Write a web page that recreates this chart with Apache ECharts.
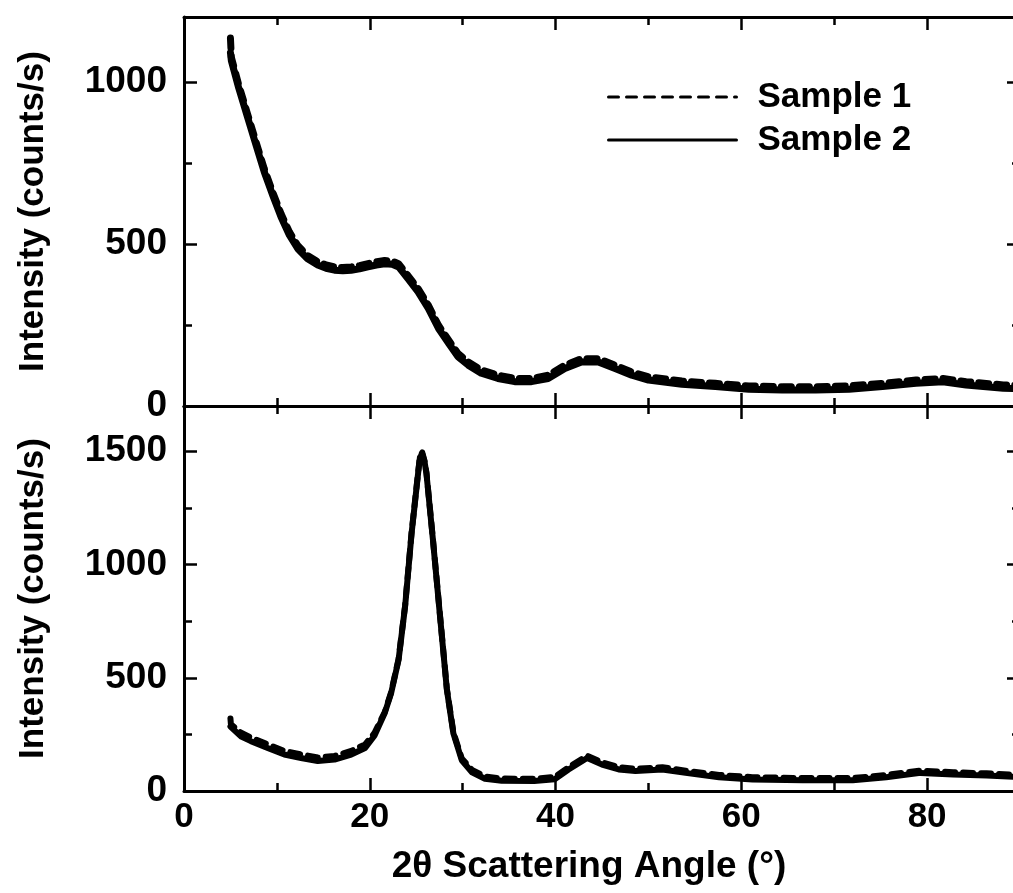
<!DOCTYPE html>
<html>
<head>
<meta charset="utf-8">
<title>XRD scans</title>
<script src="https://cdn.jsdelivr.net/npm/echarts@6/dist/echarts.min.js"></script>
<style>
  html, body { margin: 0; padding: 0; background: #fff; }
  #chart { width: 1013px; height: 893px; }
</style>
</head>
<body>
<div id="chart"></div>
<script>
// Upper panel: scattering angle (deg) and intensity (counts/s)
const angleTop = [5.0, 5.1, 5.9, 6.85, 7.75, 8.65, 9.55, 10.45, 11.35, 12.25, 13.3, 14.4, 15.3, 16.2, 17.1, 18.0, 18.9, 19.8, 20.7, 21.6, 22.4, 23.1, 24.1, 25.2, 26.3, 27.4, 28.5, 29.5, 30.6, 32.0, 33.8, 35.6, 37.4, 39.2, 41.0, 42.8, 44.6, 46.4, 48.2, 50.0, 53.6, 57.2, 60.8, 64.4, 68.0, 71.6, 75.2, 78.8, 81.7, 84.2, 88.2, 90.0];
const sample1Top = [1135, 1075, 990, 900, 815, 731, 660, 593, 537, 495, 464, 445, 435, 429, 427, 429, 433, 439, 445, 449, 447, 439, 403, 362, 311, 249, 203, 162, 136, 111, 95, 85, 85, 95, 126, 146, 146, 126, 105, 90, 77, 70, 62, 59, 59, 62, 70, 80, 85, 75, 65, 63];
const sample2Top = [1090, 1065, 980, 890, 805, 721, 650, 583, 527, 485, 454, 435, 425, 419, 417, 419, 423, 429, 435, 439, 437, 429, 393, 352, 301, 239, 193, 152, 126, 101, 85, 75, 75, 85, 116, 136, 136, 116, 95, 80, 67, 60, 52, 49, 49, 52, 60, 70, 75, 65, 55, 53];

// Lower panel
const angleBottom = [5.0, 5.05, 6.1, 7.2, 9.0, 10.8, 12.6, 14.4, 16.2, 18.0, 19.5, 20.5, 21.6, 22.3, 23.1, 23.8, 24.5, 24.85, 25.2, 25.4, 25.65, 25.9, 26.1, 26.8, 27.6, 28.3, 29.0, 29.9, 31.0, 32.4, 34.2, 37.7, 39.9, 41.4, 43.4, 45.0, 46.8, 48.6, 51.5, 54.0, 57.6, 61.2, 66.6, 72.0, 75.6, 79.3, 82.8, 86.4, 90.0];
const sample1Bottom = [320, 295, 258, 236, 206, 177, 162, 148, 155, 177, 206, 256, 347, 436, 583, 818, 1141, 1273, 1406, 1477, 1495, 1457, 1406, 1112, 759, 451, 260, 144, 93, 64, 55, 54, 62, 105, 156, 127, 105, 98, 105, 90, 71, 61, 57, 57, 71, 90, 83, 78, 71];
const sample2Bottom = [285, 279, 242, 220, 190, 161, 146, 132, 139, 161, 190, 244, 343, 432, 579, 814, 1137, 1269, 1402, 1473, 1489, 1453, 1402, 1108, 755, 447, 254, 136, 83, 54, 45, 44, 52, 95, 146, 117, 95, 88, 95, 80, 61, 51, 47, 47, 61, 80, 73, 68, 61];

// Axis ranges and tick spacing
const angleRange = [0, 90];
const angleStep = 20;
const topRange = [0, 1200];
const bottomRange = [0, 1700];
const intensityStep = 500;

const seriesNames = ['Sample 1', 'Sample 2'];

const FONT = '"Liberation Sans", Arial, Helvetica, sans-serif';
const INK = '#000';

function pairs(xs, ys) {
  return xs.map((x, i) => [x, ys[i]]);
}

function xAxisFor(gridIndex, position, withLabels) {
  return {
    type: 'value', gridIndex, position,
    min: angleRange[0], max: angleRange[1], interval: angleStep,
    axisLine: { show: true, onZero: false, lineStyle: { color: INK, width: 3 } },
    axisTick: { show: true, inside: true, length: 13, lineStyle: { color: INK, width: 2.5 } },
    minorTick: { show: true, splitNumber: 2, length: 8, lineStyle: { color: INK, width: 2.5 } },
    splitLine: { show: false },
    axisLabel: withLabels ? {
      show: true, margin: 9, showMaxLabel: false,
      formatter: v => String(v),
      fontFamily: FONT, fontWeight: 'bold', fontSize: 35, color: INK
    } : { show: false },
    name: withLabels ? '2θ Scattering Angle (°)' : '',
    nameLocation: 'middle', nameGap: 57,
    nameTextStyle: {
      fontFamily: FONT, fontWeight: 'bold', fontSize: 37, color: INK,
      padding: [0, 26, 0, 0]
    }
  };
}

function yAxisFor(gridIndex, position, range, withLabels) {
  return {
    type: 'value', gridIndex, position,
    min: range[0], max: range[1], interval: intensityStep,
    axisLine: { show: true, onZero: false, lineStyle: { color: INK, width: 3 } },
    axisTick: { show: true, inside: true, length: 13, lineStyle: { color: INK, width: 2.5 } },
    minorTick: { show: true, splitNumber: 2, length: 8, lineStyle: { color: INK, width: 2.5 } },
    splitLine: { show: false },
    axisLabel: withLabels ? {
      show: true, margin: 17, showMaxLabel: false,
      formatter: v => String(v),
      fontFamily: FONT, fontWeight: 'bold', fontSize: 37, color: INK
    } : { show: false },
    name: withLabels ? 'Intensity (counts/s)' : '',
    nameLocation: 'middle', nameGap: 133,
    nameTextStyle: { fontFamily: FONT, fontWeight: 'bold', fontSize: 35, color: INK }
  };
}

function lineSeries(name, xIdx, yIdx, data, dashed, width) {
  return {
    name, type: 'line', xAxisIndex: xIdx, yAxisIndex: yIdx,
    data, symbol: 'none', showSymbol: false, animation: false,
    lineStyle: {
      color: INK, width, join: 'round', cap: 'round',
      type: dashed ? [10, 8] : 'solid'
    },
    itemStyle: { color: INK },
    emphasis: { disabled: true }
  };
}

const chart = echarts.init(document.getElementById('chart'), null, { renderer: 'canvas' });

chart.setOption({
  backgroundColor: '#fff',
  animation: false,
  textStyle: { fontFamily: FONT },
  grid: [
    { left: 184, top: 17, width: 836, height: 389, outerBoundsMode: 'none', containLabel: false },
    { left: 184, top: 406, width: 836, height: 385, outerBoundsMode: 'none', containLabel: false }
  ],
  legend: {
    orient: 'vertical', left: 607, top: 79, padding: 0,
    itemWidth: 128, itemHeight: 14, itemGap: 7,
    data: seriesNames,
    itemStyle: { opacity: 0 },
    lineStyle: { width: 3 },
    textStyle: {
      fontFamily: FONT, fontWeight: 'bold', fontSize: 35, color: INK,
      lineHeight: 36, padding: [0, 0, 0, 16]
    },
    selectedMode: false
  },
  xAxis: [
    xAxisFor(0, 'bottom', false),
    xAxisFor(0, 'top', false),
    xAxisFor(1, 'bottom', true),
    xAxisFor(1, 'top', false)
  ],
  yAxis: [
    yAxisFor(0, 'left', topRange, true),
    yAxisFor(0, 'right', topRange, false),
    yAxisFor(1, 'left', bottomRange, true),
    yAxisFor(1, 'right', bottomRange, false)
  ],
  series: [
    lineSeries(seriesNames[1], 0, 0, pairs(angleTop, sample2Top), false, 7),
    lineSeries(seriesNames[0], 0, 0, pairs(angleTop, sample1Top), true, 7),
    lineSeries(seriesNames[1], 2, 2, pairs(angleBottom, sample2Bottom), false, 6),
    lineSeries(seriesNames[0], 2, 2, pairs(angleBottom, sample1Bottom), true, 6)
  ]
});
</script>
</body>
</html>
